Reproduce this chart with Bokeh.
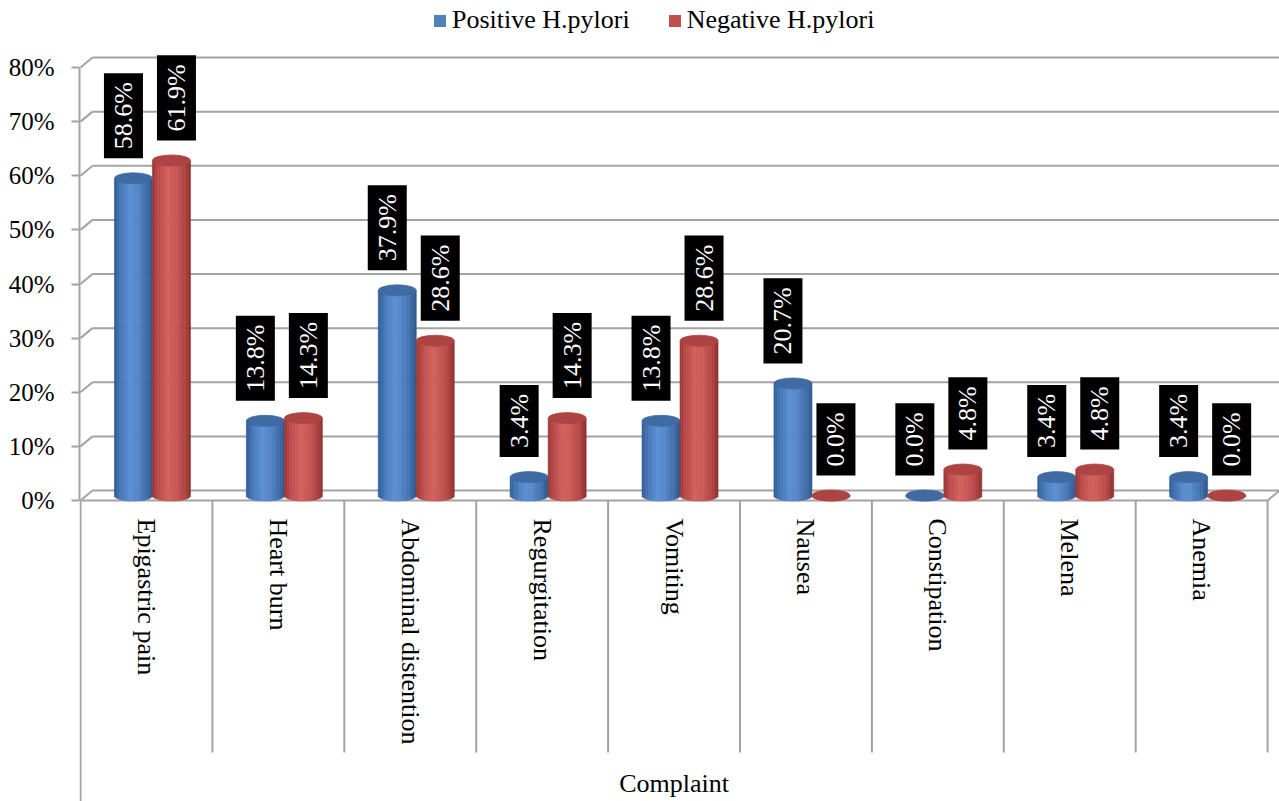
import math
import numpy as np
from bokeh.plotting import figure
from bokeh.models import (Range1d, LinearAxis, FixedTicker, PrintfTickFormatter,
                          Legend, LegendItem, ColumnDataSource)
from bokeh.core.properties import value
from bokeh.embed import file_html
from bokeh.resources import INLINE

# ---- data -------------------------------------------------------------
categories = ["Epigastric pain", "Heart burn", "Abdominal distention",
              "Regurgitation", "Vomiting", "Nausea", "Constipation",
              "Melena", "Anemia"]
positive = [58.6, 13.8, 37.9, 3.4, 13.8, 20.7, 0.0, 3.4, 3.4]
negative = [61.9, 14.3, 28.6, 14.3, 28.6, 0.0, 4.8, 4.8, 0.0]
series_names = ["Positive H.pylori", "Negative H.pylori"]
y_ticks = [0, 10, 20, 30, 40, 50, 60, 70, 80]
axis_title = "Complaint"

# ---- geometry / style -------------------------------------------------
FONT = "Liberation Serif"
FONT_PX = 26
W, H = 1279, 801
LEFT = 79                 # left border (axis panel)
CAT_PX = 131.9            # pixels per category slot
PCT_PX = 5.4125           # pixels per percentage point
ZERO_PX = 500             # canvas row of the 0 % front edge
X0 = -1 / CAT_PX
X_END = X0 + (W - LEFT) / CAT_PX
Y_TOP = ZERO_PX / PCT_PX
Y_BOT = -(H - ZERO_PX) / PCT_PX

DEPTH_X = 12 / CAT_PX     # 3-D wall depth
DEPTH_Y = 10 / PCT_PX
BAR_W = 38 / CAT_PX
RIM = 5.5                 # half height of the elliptical caps, px
GRID = "#a3a3a3"
N_CAT = len(categories)

BLUE_STOPS = [(0.0, "#2e5a93"), (0.15, "#4373b3"), (0.42, "#5a8fd4"),
              (0.6, "#5487c9"), (0.85, "#3f6dab"), (1.0, "#2d568c")]
RED_STOPS = [(0.0, "#953331"), (0.15, "#b94947"), (0.42, "#d25f5c"),
             (0.6, "#cb5855"), (0.85, "#b14441"), (1.0, "#8c2f2d")]
BLUE_CAP = "#3f6aa4"
RED_CAP = "#ad4441"
BLUE_BASE = "#4f81bd"
RED_BASE = "#c0504d"

# advance widths (em) of the serif face, used to size the label boxes
GLYPH_EM = {"0": 0.5, "1": 0.5, "2": 0.5, "3": 0.5, "4": 0.5, "5": 0.5,
            "6": 0.5, "7": 0.5, "8": 0.5, "9": 0.5, ".": 0.25, "%": 0.833}


def hex_to_rgb(h):
    h = h.lstrip("#")
    return [int(h[i:i + 2], 16) for i in (0, 2, 4)]


def shade(stops, t):
    for (t0, c0), (t1, c1) in zip(stops[:-1], stops[1:]):
        if t0 <= t <= t1:
            f = (t - t0) / (t1 - t0) if t1 > t0 else 0
            a, b = hex_to_rgb(c0), hex_to_rgb(c1)
            return "#%02x%02x%02x" % tuple(int(round(a[k] + (b[k] - a[k]) * f)) for k in range(3))
    return stops[-1][1]


p = figure(width=W, height=H, x_range=Range1d(X0, X_END), y_range=Range1d(Y_BOT, Y_TOP),
           output_backend="svg", toolbar_location=None,
           x_axis_location=None, y_axis_location=None,
           min_border_left=LEFT, min_border_right=0, min_border_top=0, min_border_bottom=0)
p.outline_line_color = None
p.grid.grid_line_color = None

# ---- walls and floor --------------------------------------------------
gx0, gy0, gx1, gy1 = [], [], [], []
for t in y_ticks:
    # side wall diagonal
    gx0.append(0); gy0.append(t); gx1.append(DEPTH_X); gy1.append(t + DEPTH_Y)
    # back wall line
    gx0.append(DEPTH_X); gy0.append(t + DEPTH_Y); gx1.append(X_END); gy1.append(t + DEPTH_Y)
# floor front edge and its right end
gx0 += [0, N_CAT]; gy0 += [0, 0]; gx1 += [N_CAT, N_CAT + DEPTH_X]; gy1 += [0, DEPTH_Y]
p.segment(x0=gx0, y0=gy0, x1=gx1, y1=gy1, line_color=GRID, line_width=2)

# category separators below the floor
sep_bottom = -(752 - ZERO_PX) / PCT_PX
p.segment(x0=list(range(1, N_CAT + 1)), y0=[0] * N_CAT,
          x1=list(range(1, N_CAT + 1)), y1=[sep_bottom] * N_CAT,
          line_color=GRID, line_width=2)
p.segment(x0=[0], y0=[0], x1=[0], y1=[Y_BOT], line_color=GRID, line_width=2)

# ---- cylinders --------------------------------------------------------
N_STRIP = 24
mid_x = DEPTH_X / 2
mid_y = DEPTH_Y / 2


def cylinders(values, side, stops, cap_color):
    L, R, B, T, C = [], [], [], [], []
    cx, cy = [], []
    for i, v in enumerate(values):
        xc = i + 0.5 + mid_x + side * BAR_W / 2
        edges = np.linspace(xc - BAR_W / 2, xc + BAR_W / 2, N_STRIP + 1)
        top = v + mid_y
        for k in range(N_STRIP):
            u = ((edges[k] + edges[k + 1]) / 2 - xc) / (BAR_W / 2)
            L.append(edges[k]); R.append(edges[k + 1])
            B.append(mid_y - RIM / PCT_PX * math.sqrt(max(0.0, 1 - u * u)))
            T.append(top)
            C.append(shade(stops, (u + 1) / 2))
        cx.append(xc); cy.append(top)
    src = ColumnDataSource(dict(left=L, right=R, bottom=B, top=T, color=C))
    p.quad(left="left", right="right", bottom="bottom", top="top", source=src,
           fill_color="color", line_color="color", line_width=0.6)
    p.ellipse(x=cx, y=cy, width=BAR_W, height=2 * RIM, height_units="screen",
              fill_color=cap_color, line_color=cap_color, line_width=0.8)
    return cx


blue_x = cylinders(positive, -1, BLUE_STOPS, BLUE_CAP)
red_x = cylinders(negative, 1, RED_STOPS, RED_CAP)

# ---- value labels: black boxes with white vertical text ---------------
LABEL_GAP = 25      # px between the bar top and the box
BOX_W = 39          # px across the box
BOX_PAD = 9         # px before/after the text along the box


def value_labels(xs, values, dx_px):
    texts = ["%.1f%%" % v for v in values]
    lens = [sum(GLYPH_EM[c] for c in t) * FONT_PX + 2 * BOX_PAD for t in texts]
    lx = [x + dx_px / CAT_PX for x in xs]
    ly = [v + (LABEL_GAP + ln / 2) / PCT_PX for v, ln in zip(values, lens)]
    src = ColumnDataSource(dict(x=lx, y=ly, h=lens, text=texts))
    p.rect(x="x", y="y", width=BOX_W, height="h", width_units="screen",
           height_units="screen", source=src, fill_color="black", line_color=None)
    p.text(x="x", y="y", text="text", source=src, angle=math.pi / 2,
           text_font=value(FONT), text_font_size="%dpx" % FONT_PX, text_color="white",
           text_align="center", text_baseline="middle")


value_labels(blue_x, positive, -10)
value_labels(red_x, negative, 5)

# ---- category labels and axis title ----------------------------------
p.text(x=[i + 0.5 for i in range(N_CAT)], y=[-(518 - ZERO_PX) / PCT_PX] * N_CAT,
       text=categories, angle=-math.pi / 2, text_font=value(FONT),
       text_font_size="%dpx" % FONT_PX, text_color="black",
       text_align="left", text_baseline="middle")
p.text(x=[N_CAT / 2], y=[-(783 - ZERO_PX) / PCT_PX], text=[axis_title],
       text_font=value(FONT), text_font_size="%dpx" % FONT_PX, text_color="black",
       text_align="center", text_baseline="middle")

# ---- value axis -------------------------------------------------------
yaxis = LinearAxis(ticker=FixedTicker(ticks=y_ticks), bounds=(0, 80),
                   formatter=PrintfTickFormatter(format="%d%%"))
yaxis.axis_line_color = GRID
yaxis.axis_line_width = 2
yaxis.major_tick_line_color = GRID
yaxis.major_tick_line_width = 2
yaxis.major_tick_out = 8
yaxis.major_tick_in = 0
yaxis.minor_tick_out = 0
yaxis.minor_tick_in = 0
yaxis.major_label_standoff = 17
yaxis.major_label_text_font = FONT
yaxis.major_label_text_font_size = "25px"
yaxis.major_label_text_color = "black"
p.add_layout(yaxis, "left")

# ---- legend (zero-area swatch renderers) ------------------------------
r_pos = p.quad(left=[X0], right=[X0], top=[Y_BOT], bottom=[Y_BOT],
               fill_color=BLUE_BASE, line_color=None)
r_neg = p.quad(left=[X0], right=[X0], top=[Y_BOT], bottom=[Y_BOT],
               fill_color=RED_BASE, line_color=None)
legend = Legend(items=[LegendItem(label=series_names[0], renderers=[r_pos]),
                       LegendItem(label=series_names[1], renderers=[r_neg])],
                orientation="horizontal", location=(432 - LEFT, H - 35))
legend.border_line_color = None
legend.background_fill_alpha = 0
legend.padding = 0
legend.margin = 0
legend.spacing = 37
legend.label_standoff = 5
legend.glyph_width = 15
legend.glyph_height = 15
legend.label_text_font = FONT
legend.label_text_font_size = "%dpx" % FONT_PX
legend.label_text_color = "black"
p.add_layout(legend)

open("out.html", "w").write(file_html(p, INLINE))
